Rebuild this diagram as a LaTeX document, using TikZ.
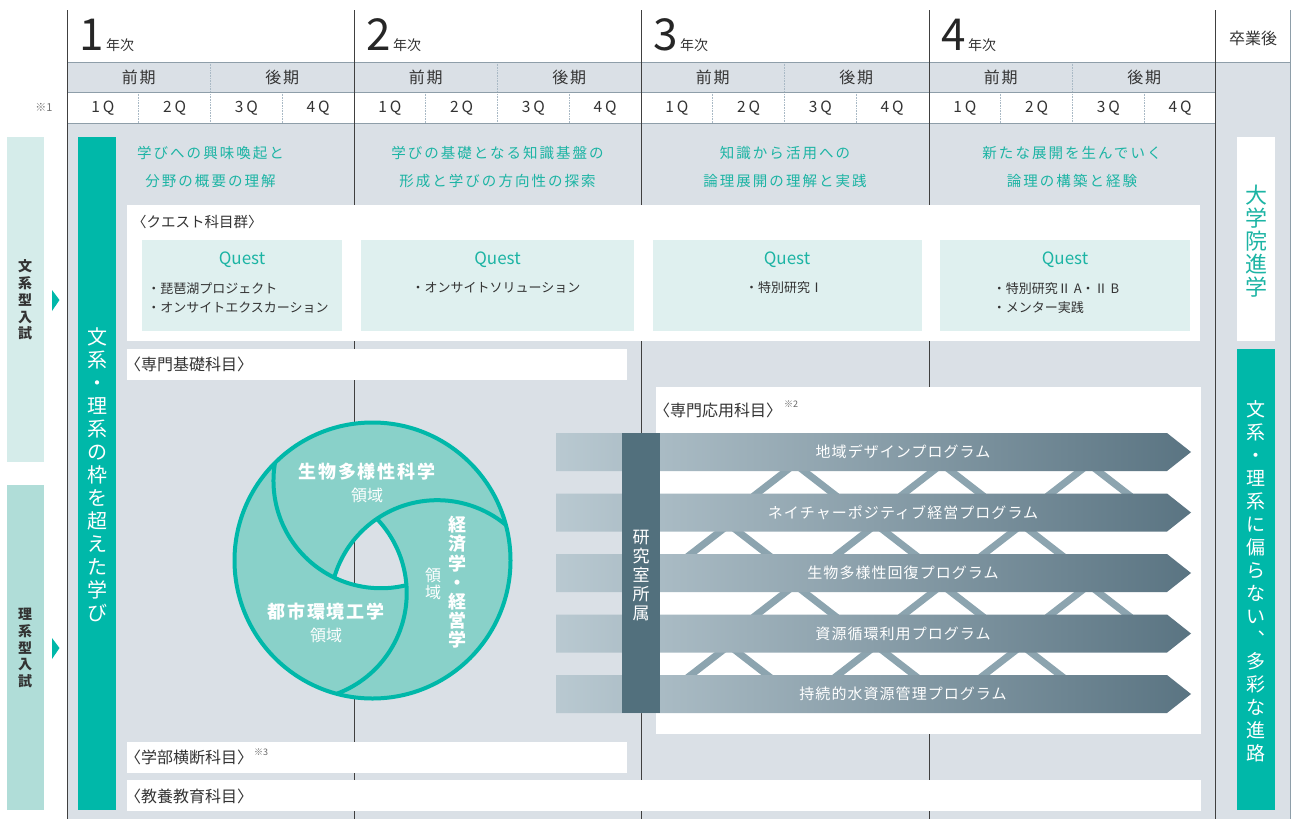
\documentclass[tikz,border=0pt]{standalone}
\usepackage{fontspec}
\setmainfont{Noto Sans CJK JP}
\usetikzlibrary{positioning}

\definecolor{mainteal}{HTML}{00B8A9}
\definecolor{tealtext}{HTML}{1CB4A4}
\definecolor{bodygray}{HTML}{DAE0E6}
\definecolor{questbg}{HTML}{DFF0EF}
\definecolor{bunkeibg}{HTML}{D5ECEA}
\definecolor{rikeibg}{HTML}{B0DDD8}
\definecolor{ringfill}{HTML}{89D1C9}
\definecolor{labbar}{HTML}{52707D}
\definecolor{progdark}{HTML}{5A7482}
\definecolor{proglight}{HTML}{B9C9D1}
\definecolor{lattice}{HTML}{8CA4AF}
\definecolor{ink}{HTML}{333333}
\definecolor{rulegray}{HTML}{8E9EA9}
\definecolor{dotgray}{HTML}{A9B9C5}

\tikzset{
  txt/.style={inner sep=0pt, text=ink},
  fs/.style={font=\fontsize{#1}{#1}\selectfont},
  vlabel/.style={align=center, inner sep=0pt},
}

\begin{document}
\begin{tikzpicture}[x=1pt,y=-1pt,
  yearline/.style={draw=black!75, line width=0.9pt},
  rowline/.style={draw=rulegray, line width=0.8pt},
  dotline/.style={draw=dotgray, line width=0.6pt, densely dotted},
  boxlabel/.style={anchor=west, inner sep=0pt, text=ink, font=\fontsize{16}{16}\selectfont},
  theme/.style={align=center, inner sep=0pt, text=tealtext, font=\fontsize{14.5}{28}\selectfont\addfontfeatures{LetterSpace=14}},
  questtitle/.style={inner sep=0pt, text=tealtext, font=\fontsize{17}{17}\selectfont},
  questitem/.style={inner sep=0pt, text=ink, align=left, font=\fontsize{13}{19}\selectfont},
  proglabel/.style={inner sep=0pt, text=white, font=\fontsize{15}{15}\selectfont\addfontfeatures{LetterSpace=7}},
  chevron/.style={draw=lattice, line width=7pt},
  ring/.style={draw=mainteal, line width=4pt},
]

\useasboundingbox (0,0) rectangle (1295,819);

\fill[bodygray] (67,62) rectangle (1215,92);
\fill[bodygray] (67,123) rectangle (1215,819);
\fill[bodygray] (1215,62) rectangle (1290,819);

\foreach \s in {67,354,641,929} {
  \draw[dotline] (\s+71.75,92) -- (\s+71.75,123);
  \draw[dotline] (\s+143.5,62) -- (\s+143.5,123);
  \draw[dotline] (\s+215.25,92) -- (\s+215.25,123);
}
\draw[rowline] (67,62) -- (1290,62);
\draw[rowline] (67,92) -- (1215,92);
\draw[rowline] (67,123) -- (1215,123);
\foreach \x in {67,354,641,929,1215}
  \draw[yearline] (\x,10) -- (\x,819);
\draw[rowline] (1290,10) -- (1290,819);

\foreach \n/\s in {1/67,2/354,3/641,4/929} {
  \node[anchor=base west, inner sep=0pt, font=\fontsize{44}{44}\selectfont, text=black!85] (yr\n) at (\s+12,50) {\n};
  \node[right=2pt of yr\n.base east, anchor=base west, inner sep=0pt, font=\fontsize{14}{14}\selectfont, text=ink] (yrt\n) {年次};
  \node[txt, font=\fontsize{16}{16}\selectfont\addfontfeatures{LetterSpace=10}] (zen\n) at (\s+71.75,77) {前期};
  \node[txt, font=\fontsize{16}{16}\selectfont\addfontfeatures{LetterSpace=10}] (kou\n) at (\s+215.25,77) {後期};
  \foreach \q in {1,...,4}
    \node[txt, font=\fontsize{15.5}{15.5}\selectfont\addfontfeatures{LetterSpace=20}] (q\n\q) at (\s+71.75*\q-35.875,108) {\q Q};
}
\node[txt, fs=11, text=black!55] (note1) at (44,107) {※1};
\node[txt, fs=16] (sotsu) at (1253,38) {卒業後};

\fill[bunkeibg] (7,137) rectangle (44,462);
\fill[rikeibg] (7,485) rectangle (44,810);
\node[vlabel, text=ink, font=\bfseries\fontsize{14}{16.8}\selectfont] (bunkei) at (25,300) {文\\系\\型\\入\\試};
\node[vlabel, text=ink, font=\bfseries\fontsize{14}{16.8}\selectfont] (rikei) at (25,648) {理\\系\\型\\入\\試};
\fill[mainteal] (52,290) -- (59.5,300) -- (52,311) -- cycle;
\fill[mainteal] (52,638) -- (59.5,648) -- (52,659) -- cycle;

\fill[mainteal] (78,137) rectangle (116,810);
\node[vlabel, text=white, font=\fontsize{20}{23}\selectfont] (waku) at (97,475) {文\\系\\・\\理\\系\\の\\枠\\を\\超\\え\\た\\学\\び};

\node[theme] (th1) at (210.5,167) {学びへの興味喚起と\\分野の概要の理解};
\node[theme] (th2) at (497.5,167) {学びの基礎となる知識基盤の\\形成と学びの方向性の探索};
\node[theme] (th3) at (785,167) {知識から活用への\\論理展開の理解と実践};
\node[theme] (th4) at (1072,167) {新たな展開を生んでいく\\論理の構築と経験};

\fill[white] (127,205) rectangle (1200,341);
\node[boxlabel, font=\fontsize{14.5}{14.5}\selectfont] (questlbl) at (132,222) {〈クエスト科目群〉};
\fill[questbg] (142,240) rectangle (342,331);
\fill[questbg] (361,240) rectangle (634,331);
\fill[questbg] (653,240) rectangle (922,331);
\fill[questbg] (940,240) rectangle (1190,331);
\node[questtitle] (qt1) at (242,260) {Quest};
\node[questtitle] (qt2) at (497.5,260) {Quest};
\node[questtitle] (qt3) at (787,260) {Quest};
\node[questtitle] (qt4) at (1065,260) {Quest};
\node[questitem] (qi1) at (238,298) {・琵琶湖プロジェクト\\・オンサイトエクスカーション};
\node[questitem] (qi2) at (496,288) {・オンサイトソリューション};
\node[questitem] (qi3) at (784,288) {・特別研究Ⅰ};
\node[questitem] (qi4) at (1056,298) {・特別研究Ⅱ A・Ⅱ B\\・メンター実践};

\fill[white] (127,349) rectangle (627,380);
\node[boxlabel] (kiso) at (125,364.5) {〈専門基礎科目〉};
\fill[white] (656,387) rectangle (1201,734);
\node[boxlabel] (ouyou) at (654,410) {〈専門応用科目〉};
\node[txt, fs=9, text=black!60] (note2) at (791,404) {※2};
\fill[white] (127,742) rectangle (627,773);
\node[boxlabel] (oudan) at (125,757.5) {〈学部横断科目〉};
\node[txt, fs=9, text=black!60] (note3) at (261,752) {※3};
\fill[white] (127,780) rectangle (1201,811);
\node[boxlabel] (kyouyou) at (125,796) {〈教養教育科目〉};

\begin{scope}[shift={(372.5,560.5)}, yscale=-1]
  \fill[ringfill, even odd rule] (0,0) circle[radius=138]
    (204:42) arc[start angle=244.2, end angle=283.8, radius=107.4]
    arc[start angle=364.2, end angle=403.8, radius=107.4]
    arc[start angle=124.2, end angle=163.8, radius=107.4] -- cycle;
  \foreach \r in {0,120,240}
    \draw[ring, rotate=\r] (84:80.1) ++(170.4:107.4) arc[start angle=170.4, end angle=283.8, radius=107.4];
  \draw[ring] (0,0) circle[radius=138];
\end{scope}
\node[txt, text=white, font=\bfseries\fontsize{18}{18}\selectfont\addfontfeatures{LetterSpace=10}] (bio) at (367,472) {生物多様性科学};
\node[txt, text=white, fs=16] (bioR) at (367,495) {領域};
\node[txt, text=white, font=\bfseries\fontsize{18}{18}\selectfont\addfontfeatures{LetterSpace=10}] (toshi) at (326,612) {都市環境工学};
\node[txt, text=white, fs=16] (toshiR) at (326,635) {領域};
\node[vlabel, text=white, font=\bfseries\fontsize{18}{19.2}\selectfont] (keizai) at (457,582.5) {経\\済\\学\\・\\経\\営\\学};
\node[vlabel, text=white, font=\fontsize{16}{17}\selectfont] (keizaiR) at (433,583.5) {領\\域};

\foreach \g/\xa/\xb/\xc in {1/795/942/1089, 2/729/876/1022, 3/795/942/1089, 4/729/876/1022} {
  \pgfmathsetmacro\yb{471+60.5*(\g-1)}
  \foreach \x in {\xa,\xb,\xc}
    \draw[chevron] (\x-42,\yb+25.5) -- (\x,\yb-7) -- (\x+42,\yb+25.5);
}
\foreach \i/\t in {1/地域デザインプログラム, 2/ネイチャーポジティブ経営プログラム, 3/生物多様性回復プログラム, 4/資源循環利用プログラム, 5/持続的水資源管理プログラム} {
  \pgfmathsetmacro\yc{452+60.5*(\i-1)}
  \shade[left color=proglight, right color=progdark] (556,\yc-19) -- (1167,\yc-19) -- (1191,\yc) -- (1167,\yc+19) -- (556,\yc+19) -- cycle;
  \node[proglabel] (prog\i) at (903,\yc) {\t};
}
\fill[labbar] (622,433) rectangle (660,713);
\node[vlabel, text=white, font=\fontsize{17}{19.2}\selectfont] (lab) at (641,575.5) {研\\究\\室\\所\\属};

\fill[white] (1237,137) rectangle (1275,341);
\node[vlabel, text=tealtext, font=\fontsize{22}{23}\selectfont] (inshin) at (1256,241.5) {大\\学\\院\\進\\学};
\fill[mainteal] (1237,349) rectangle (1275,810);
\node[vlabel, text=white, font=\fontsize{19}{22.9}\selectfont] (shinro) at (1256,581.5) {文\\系\\・\\理\\系\\に\\偏\\ら\\な\\い\\︑\\多\\彩\\な\\進\\路};

\end{tikzpicture}
\end{document}
